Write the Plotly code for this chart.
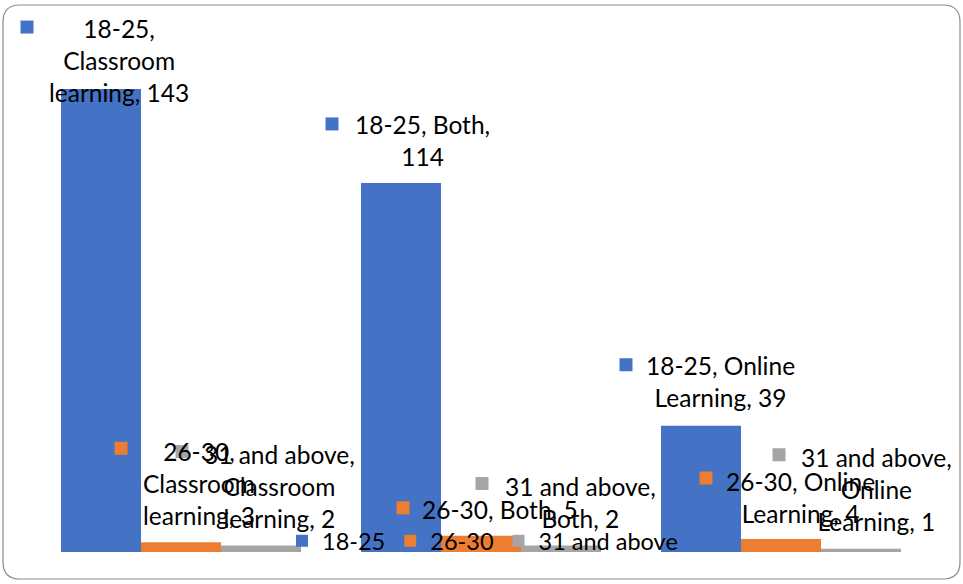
import plotly.graph_objects as go

# ---- data ----
categories = ["Classroom learning", "Both", "Online Learning"]
series_names = ["18-25", "26-30", "31 and above"]
values_18_25 = [143, 114, 39]
values_26_30 = [3, 5, 4]
values_31_up = [2, 2, 1]

# ---- styling / layout config ----
colors = ["#4472C4", "#ED7D31", "#A5A5A5"]
FONT = "Lato"
FS = 24.5
LEG_FS = 23.5
L, R, T, B = 11, 32, 10, 32
W, H = 963, 584
PW, PH = W - L - R, H - T - B
CAT_PX = 300  # px per category
XMIN = -0.5 - (31 - L) / CAT_PX
SCALE = 518 / 160  # px per unit
YMAX = PH / SCALE
series_px = [-80, 0, 80]  # pixel offset of each series bar centre within a group

# per label (series, category): word counts per line, text offset, square offset (px, y down)
label_cfg = {
    (0, 0): ([1, 1, 2], 18, -29, -74, -62),
    (0, 1): ([2, 1], 21, -42, -69, -59),
    (0, 2): ([2, 2], 19, -44, -75, -61),
    (1, 0): ([1, 1, 2], 18, -59, -60, -94),
    (1, 1): ([3], 19, -26, -78, -28),
    (1, 2): ([2, 2], 19, -42, -75, -61),
    (2, 0): ([3, 1, 2], 18, -59, -79, -94),
    (2, 1): ([3, 2], 19, -43, -79, -62),
    (2, 2): ([3, 1, 2], 15, -59, -82, -94),
}

all_values = [values_18_25, values_26_30, values_31_up]

fig = go.Figure()
for si, (name, vals) in enumerate(zip(series_names, all_values)):
    fig.add_trace(go.Bar(x=categories, y=vals, name=name,
                         marker=dict(color=colors[si], line=dict(width=0))))

annotations = []
shapes = []
for si, vals in enumerate(all_values):
    for ci, v in enumerate(vals):
        counts, tdx, tdy, sdx, sdy = label_cfg[(si, ci)]
        words = f"{series_names[si]}, {categories[ci]}, {v}".split(" ")
        lines, k = [], 0
        for c in counts:
            lines.append(" ".join(words[k:k + c]))
            k += c
        annotations.append(dict(
            x=ci, y=v, xref="x", yref="y",
            xshift=series_px[si] + tdx, yshift=-tdy,
            text="<br>".join(lines), showarrow=False,
            xanchor="center", yanchor="middle", align="center",
            font=dict(family=FONT, size=FS, color="black")))
        cx = series_px[si] + sdx
        cy = -sdy
        shapes.append(dict(
            type="rect", xref="x", yref="y",
            xsizemode="pixel", ysizemode="pixel",
            xanchor=ci, yanchor=v,
            x0=cx - 6.5, x1=cx + 6.5, y0=cy - 6.5, y1=cy + 6.5,
            fillcolor=colors[si], line=dict(width=0)))

# rounded border of the chart area (pixel -> paper conversion)
def px(x):
    return (x - L) / PW

def py(y):
    return (H - B - y) / PH

x0b, x1b, y0b, y1b, rr = 3, 960, 5, 579, 17
path = (f"M {px(x0b + rr)},{py(y0b)} L {px(x1b - rr)},{py(y0b)} "
        f"Q {px(x1b)},{py(y0b)} {px(x1b)},{py(y0b + rr)} "
        f"L {px(x1b)},{py(y1b - rr)} Q {px(x1b)},{py(y1b)} {px(x1b - rr)},{py(y1b)} "
        f"L {px(x0b + rr)},{py(y1b)} Q {px(x0b)},{py(y1b)} {px(x0b)},{py(y1b - rr)} "
        f"L {px(x0b)},{py(y0b + rr)} Q {px(x0b)},{py(y0b)} {px(x0b + rr)},{py(y0b)} Z")
shapes.append(dict(type="path", xref="paper", yref="paper", path=path,
                   line=dict(color="#8C8C8C", width=1.2), fillcolor="rgba(0,0,0,0)",
                   layer="below"))

fig.update_layout(
    width=W, height=H,
    margin=dict(l=L, r=R, t=T, b=B),
    paper_bgcolor="white", plot_bgcolor="white",
    barmode="group", bargap=0.2, bargroupgap=0,
    xaxis=dict(visible=False, range=[XMIN, 2.5]),
    yaxis=dict(visible=False, range=[0, YMAX]),
    showlegend=True,
    legend=dict(orientation="h", x=(282 - L) / PW, y=(H - B - 541) / PH,
                xanchor="left", yanchor="middle",
                font=dict(family=FONT, size=LEG_FS, color="black"),
                bgcolor="rgba(0,0,0,0)", itemclick=False, tracegroupgap=0),
    annotations=annotations, shapes=shapes,
)

fig.write_html("out.html")
